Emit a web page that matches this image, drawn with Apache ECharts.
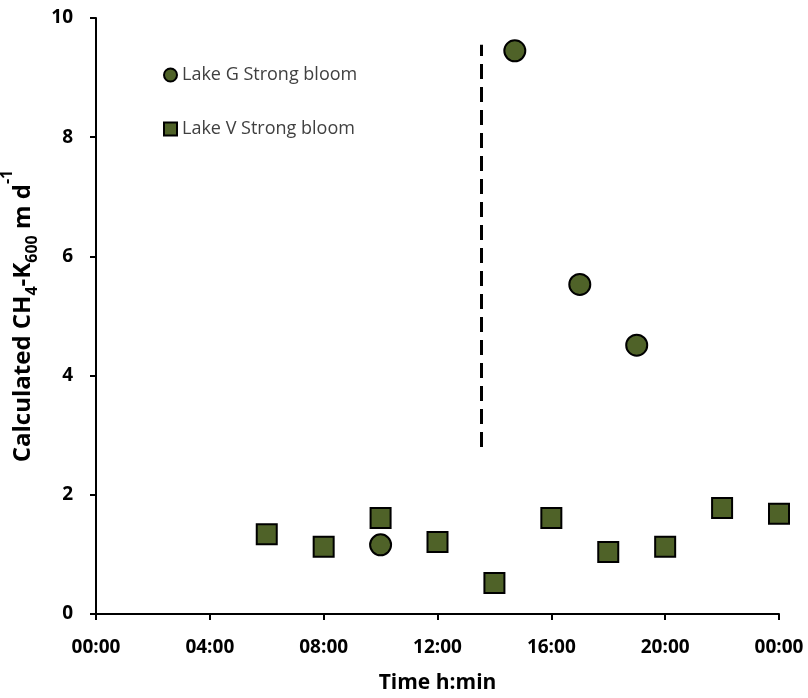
<!DOCTYPE html>
<html>
<head>
<meta charset="utf-8">
<script src="https://cdn.jsdelivr.net/npm/echarts@6/dist/echarts.min.js"></script>
<style>html,body{margin:0;padding:0;background:#fff}#c{width:808px;height:698px}</style>
</head>
<body>
<div id="c"></div>
<script>
// Data (time as h:min, value in m d-1)
const lakeGTimes = ["10:00", "14:43", "17:00", "19:00"];
const lakeGValues = [1.16, 9.45, 5.53, 4.51];
const lakeVTimes = ["06:00", "08:00", "10:00", "12:00", "14:00", "16:00", "18:00", "20:00", "22:00", "24:00"];
const lakeVValues = [1.34, 1.13, 1.61, 1.21, 0.52, 1.61, 1.04, 1.13, 1.78, 1.68];
const seriesNames = ["Lake G Strong bloom", "Lake V Strong bloom"];
const dashedLineTime = "13:32";
const dashedLineRange = [2.8, 9.55];

const toHours = s => { const [h, m] = s.split(":").map(Number); return h + m / 60; };
const pad = n => (n < 10 ? "0" : "") + n;

const FONT = "Open Sans";
const fill = "#4F6228";

const chart = echarts.init(document.getElementById("c"), null, { renderer: "canvas" });
chart.setOption({
  animation: false,
  textStyle: { fontFamily: FONT },
  grid: { left: 96, right: 29, top: 18, bottom: 84, containLabel: false, outerBoundsMode: "none" },
  legend: {
    orient: "vertical",
    left: 163,
    top: 65,
    padding: 0,
    itemGap: 34,
    itemWidth: 13,
    itemHeight: 13,
    textStyle: { fontFamily: FONT, fontSize: 18, color: "#404040", lineHeight: 20 },
    data: [
      { name: seriesNames[0], icon: "circle" },
      { name: seriesNames[1], icon: "rect" }
    ]
  },
  xAxis: {
    type: "value",
    min: 0, max: 24, interval: 4,
    name: "Time h:min",
    nameLocation: "middle",
    nameGap: 59,
    nameTextStyle: { fontFamily: FONT, fontSize: 21, fontWeight: "bold", color: "#000", verticalAlign: "top" },
    axisLine: { lineStyle: { color: "#000", width: 2 } },
    axisTick: { show: true, length: 6, lineStyle: { color: "#000", width: 2 } },
    axisLabel: { fontFamily: FONT, fontSize: 19, fontWeight: "bold", color: "#000", margin: 24,
      formatter: v => pad(Math.round(v) % 24) + ":00" },
    splitLine: { show: false }
  },
  yAxis: {
    type: "value",
    min: 0, max: 10, interval: 2,
    name: "{n|Calculated CH}{sub|4}{n|-K}{sub|600}{n| m d}{sup|-1}",
    nameLocation: "middle",
    nameRotate: 90,
    nameGap: 58,
    nameTextStyle: {
      fontFamily: FONT, fontSize: 24, fontWeight: "bold", color: "#000",
      rich: {
        n: { fontFamily: FONT, fontSize: 24, fontWeight: "bold", color: "#000", verticalAlign: "bottom", lineHeight: 30 },
        sub: { fontFamily: FONT, fontSize: 16, fontWeight: "bold", color: "#000", verticalAlign: "bottom", lineHeight: 22, padding: [0, 0, -5, 0] },
        sup: { fontFamily: FONT, fontSize: 16, fontWeight: "bold", color: "#000", verticalAlign: "top", lineHeight: 36 }
      }
    },
    axisLine: { show: true, lineStyle: { color: "#000", width: 2 } },
    axisTick: { show: true, length: 6, lineStyle: { color: "#000", width: 2 } },
    axisLabel: { fontFamily: FONT, fontSize: 19, fontWeight: "bold", color: "#000", margin: 23 },
    splitLine: { show: false }
  },
  series: [
    {
      name: seriesNames[0],
      type: "scatter",
      symbol: "circle",
      symbolSize: 21,
      itemStyle: { color: fill, opacity: 1, borderColor: "#000", borderWidth: 2 },
      data: lakeGTimes.map((t, i) => [toHours(t), lakeGValues[i]]),
      markLine: {
        silent: true,
        symbol: "none",
        label: { show: false },
        lineStyle: { color: "#000", width: 3, type: [15, 8] },
        data: [[
          { coord: [toHours(dashedLineTime), dashedLineRange[0]] },
          { coord: [toHours(dashedLineTime), dashedLineRange[1]] }
        ]]
      },
      z: 3
    },
    {
      name: seriesNames[1],
      type: "scatter",
      symbol: "rect",
      symbolSize: 20,
      itemStyle: { color: fill, opacity: 1, borderColor: "#000", borderWidth: 2 },
      data: lakeVTimes.map((t, i) => [toHours(t), lakeVValues[i]]),
      z: 2
    }
  ]
});
</script>
</body>
</html>
